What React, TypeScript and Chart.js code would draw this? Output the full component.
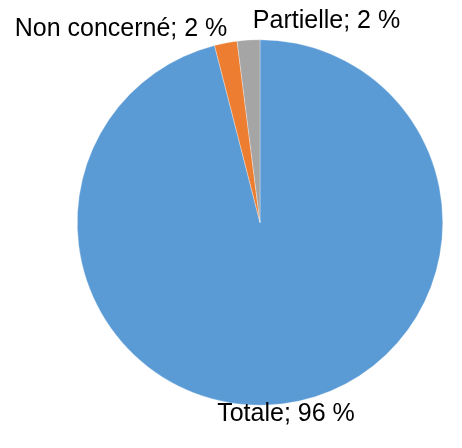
import React, { useEffect, useRef } from "react";
import { Chart, registerables } from "chart.js";

Chart.register(...registerables);

const categories = ["Totale", "Non concerné", "Partielle"];
const values = [96, 2, 2];
const colors = ["#5B9BD5", "#ED7D31", "#A5A5A5"];
const labelTexts = categories.map((c, i) => `${c}; ${values[i]} %`);

const labelPlugin = {
  id: "pieLabels",
  afterDraw(chart: any) {
    const ctx = chart.ctx;
    const meta = chart.getDatasetMeta(0);
    const arc0 = meta.data[0];
    const cx = arc0.x;
    const cy = arc0.y;
    const r = arc0.outerRadius;
    const placements = [
      { x: cx + 26, y: cy + r + 15.5 },
      { x: cx - 139, y: cy - r - 4 },
      { x: cx + 66.5, y: cy - r - 12 },
    ];
    ctx.save();
    ctx.font = '25px "Liberation Sans", Arial, sans-serif';
    ctx.fillStyle = "#000000";
    ctx.textAlign = "center";
    ctx.textBaseline = "alphabetic";
    labelTexts.forEach((t, i) => {
      ctx.fillText(t, placements[i].x, placements[i].y);
    });
    ctx.restore();
  },
};

export default function App() {
  const ref = useRef<HTMLCanvasElement>(null);
  useEffect(() => {
    document.body.style.margin = "0";
    const chart = new Chart(ref.current as HTMLCanvasElement, {
      type: "pie",
      data: {
        labels: categories,
        datasets: [
          {
            data: values,
            backgroundColor: colors,
            borderColor: "rgba(255,255,255,0.6)",
            borderWidth: 0.5,
          },
        ],
      },
      options: {
        responsive: false,
        animation: false,
        layout: { padding: { left: 77, right: 19, top: 39.5, bottom: 42.5 } },
        plugins: {
          legend: { display: false },
          tooltip: { enabled: false },
        },
      },
      plugins: [labelPlugin],
    });
    return () => chart.destroy();
  }, []);
  return (
    <div style={{ width: 462, height: 448 }}>
      <canvas ref={ref} width={462} height={448} />
    </div>
  );
}
